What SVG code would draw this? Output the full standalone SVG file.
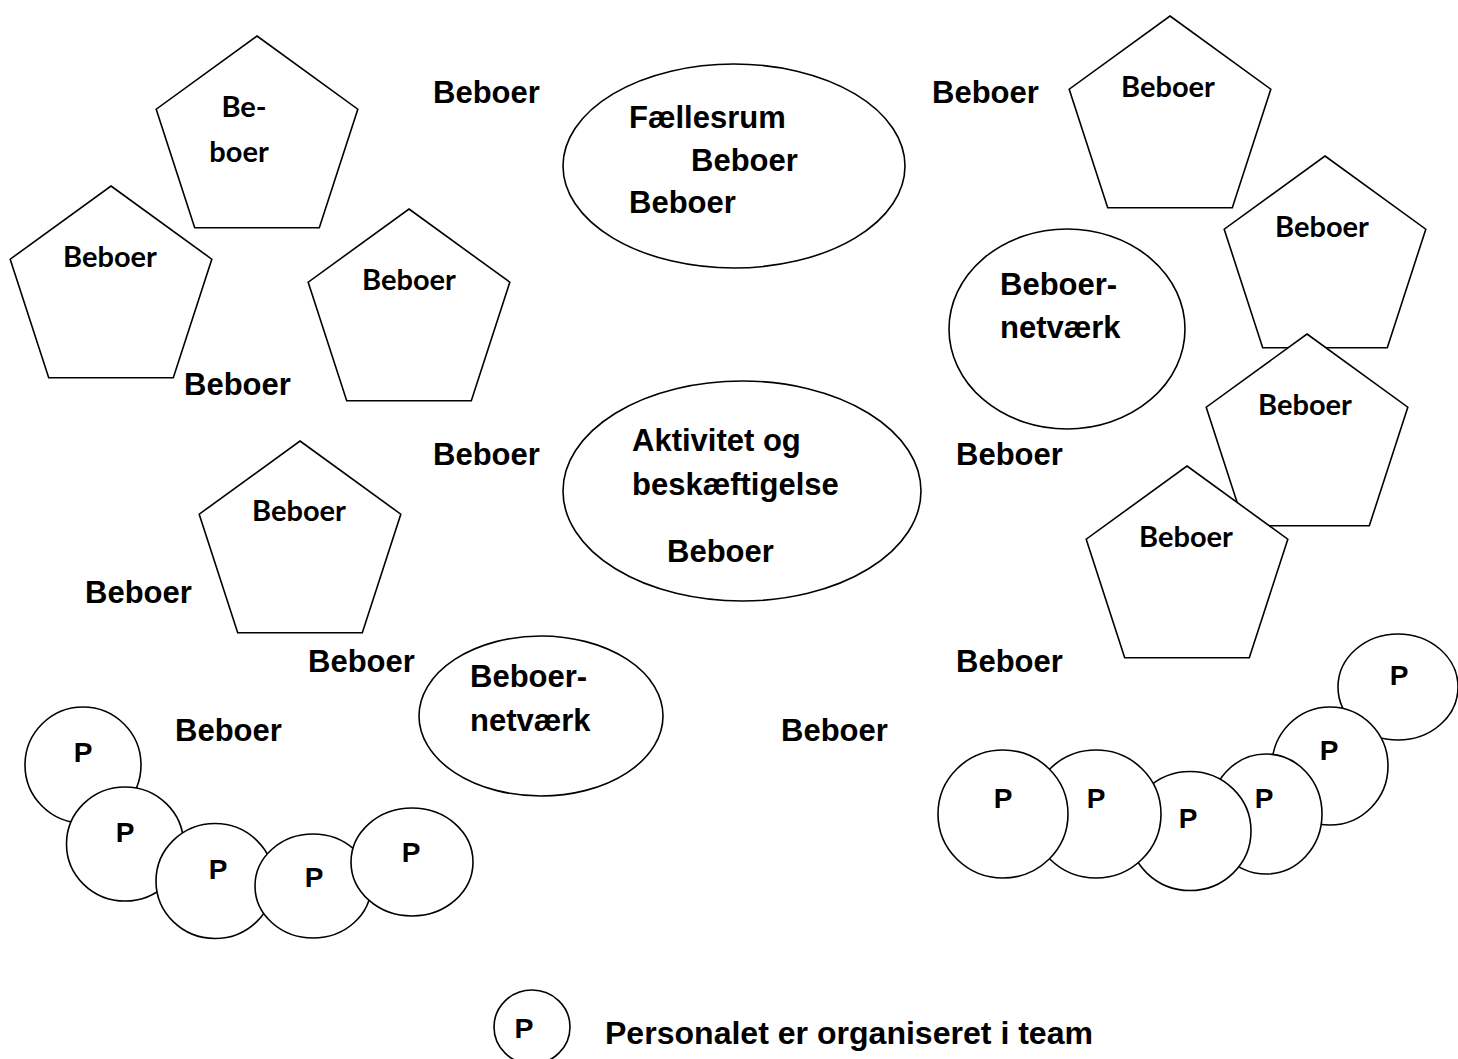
<svg xmlns="http://www.w3.org/2000/svg" width="1458" height="1059" viewBox="0 0 1458 1059">
<defs>
<polygon id="pent" points="0,0 100.8,73.2 62.3,191.8 -62.3,191.8 -100.8,73.2"/>
</defs>
<style>
.shape{fill:#fff;stroke:#000;stroke-width:1.6}
.a{font-family:"Liberation Sans",Arial,sans-serif;font-weight:bold;font-size:31px;fill:#000}
.p{font-family:"Liberation Sans",Arial,sans-serif;font-weight:bold;font-size:28px;fill:#000;text-anchor:middle}
.c{font-family:Lato,"Open Sans",sans-serif;font-weight:bold;font-size:29px;fill:#000;text-anchor:middle}
</style>
<rect width="1458" height="1059" fill="#fff"/>
<g id="connectors"></g>

<g id="pent1"><use href="#pent" x="257" y="36" class="shape"/><text class="c" x="244" y="117">Be-</text><text class="c" x="239" y="162">boer</text></g>
<g id="pent2"><use href="#pent" x="111" y="186" class="shape"/><text class="c" x="110" y="267">Beboer</text></g>
<g id="pent3"><use href="#pent" x="409" y="209" class="shape"/><text class="c" x="409" y="290">Beboer</text></g>
<g id="pent4"><use href="#pent" x="1170" y="16" class="shape"/><text class="c" x="1168" y="97">Beboer</text></g>
<g id="pent5"><use href="#pent" x="1325" y="156" class="shape"/><text class="c" x="1322" y="237">Beboer</text></g>
<g id="pent6"><use href="#pent" x="1307" y="334" class="shape"/><text class="c" x="1305" y="415">Beboer</text></g>
<g id="pent7"><use href="#pent" x="1187" y="466" class="shape"/><text class="c" x="1186" y="547">Beboer</text></g>
<g id="pent8"><use href="#pent" x="300" y="441" class="shape"/><text class="c" x="299" y="521">Beboer</text></g>

<g id="faellesrum"><ellipse class="shape" cx="734" cy="166" rx="171" ry="102"/>
<text class="a" x="629" y="128">Fællesrum</text><text class="a" x="691" y="171">Beboer</text><text class="a" x="629" y="213">Beboer</text></g>
<g id="aktivitet"><ellipse class="shape" cx="742" cy="491" rx="179" ry="110"/>
<text class="a" x="632" y="451">Aktivitet og</text><text class="a" x="632" y="495">beskæftigelse</text><text class="a" x="667" y="562">Beboer</text></g>
<g id="netvaerk-right"><ellipse class="shape" cx="1067" cy="329" rx="118" ry="100"/>
<text class="a" x="1000" y="295">Beboer-</text><text class="a" x="1000" y="338">netværk</text></g>
<g id="netvaerk-left"><ellipse class="shape" cx="541" cy="716" rx="122" ry="80"/>
<text class="a" x="470" y="687">Beboer-</text><text class="a" x="470" y="731">netværk</text></g>

<g id="beboer-labels">
<text class="a" x="433" y="103">Beboer</text>
<text class="a" x="932" y="103">Beboer</text>
<text class="a" x="184" y="395">Beboer</text>
<text class="a" x="433" y="465">Beboer</text>
<text class="a" x="956" y="465">Beboer</text>
<text class="a" x="85" y="603">Beboer</text>
<text class="a" x="308" y="672">Beboer</text>
<text class="a" x="956" y="672">Beboer</text>
<text class="a" x="175" y="741">Beboer</text>
<text class="a" x="781" y="741">Beboer</text>
</g>

<g id="team-left">
<g id="pl1"><ellipse class="shape" cx="83" cy="765" rx="58" ry="58"/><text class="p" x="83" y="762">P</text></g>
<g id="pl2"><ellipse class="shape" cx="125" cy="844" rx="58.5" ry="57"/><text class="p" x="125" y="842">P</text></g>
<g id="pl3"><ellipse class="shape" cx="215" cy="881" rx="59" ry="57.5"/><text class="p" x="218" y="879">P</text></g>
<g id="pl4"><ellipse class="shape" cx="313" cy="886" rx="58" ry="52"/><text class="p" x="314" y="887">P</text></g>
<g id="pl5"><ellipse class="shape" cx="412" cy="862" rx="61" ry="54"/><text class="p" x="411" y="862">P</text></g>
</g>

<g id="team-right">
<g id="pr6"><ellipse class="shape" cx="1398" cy="687" rx="60" ry="53"/><text class="p" x="1399" y="685">P</text></g>
<g id="pr5"><ellipse class="shape" cx="1330" cy="766" rx="58" ry="59"/><text class="p" x="1329" y="760">P</text></g>
<g id="pr4"><ellipse class="shape" cx="1266" cy="814" rx="56" ry="60"/><text class="p" x="1264" y="808">P</text></g>
<g id="pr3"><ellipse class="shape" cx="1190" cy="831" rx="61" ry="59.5"/><text class="p" x="1188" y="828">P</text></g>
<g id="pr2"><ellipse class="shape" cx="1096" cy="814" rx="65" ry="64"/><text class="p" x="1096" y="808">P</text></g>
<g id="pr1"><ellipse class="shape" cx="1003" cy="814" rx="65" ry="64"/><text class="p" x="1003" y="808">P</text></g>
</g>

<g id="legend"><ellipse class="shape" cx="532" cy="1027" rx="38" ry="37"/><text class="p" x="524" y="1038" font-size="31" textLength="19" lengthAdjust="spacingAndGlyphs">P</text>
<text class="a" x="605" y="1044" font-size="33" textLength="488" lengthAdjust="spacingAndGlyphs">Personalet er organiseret i team</text></g>
</svg>
